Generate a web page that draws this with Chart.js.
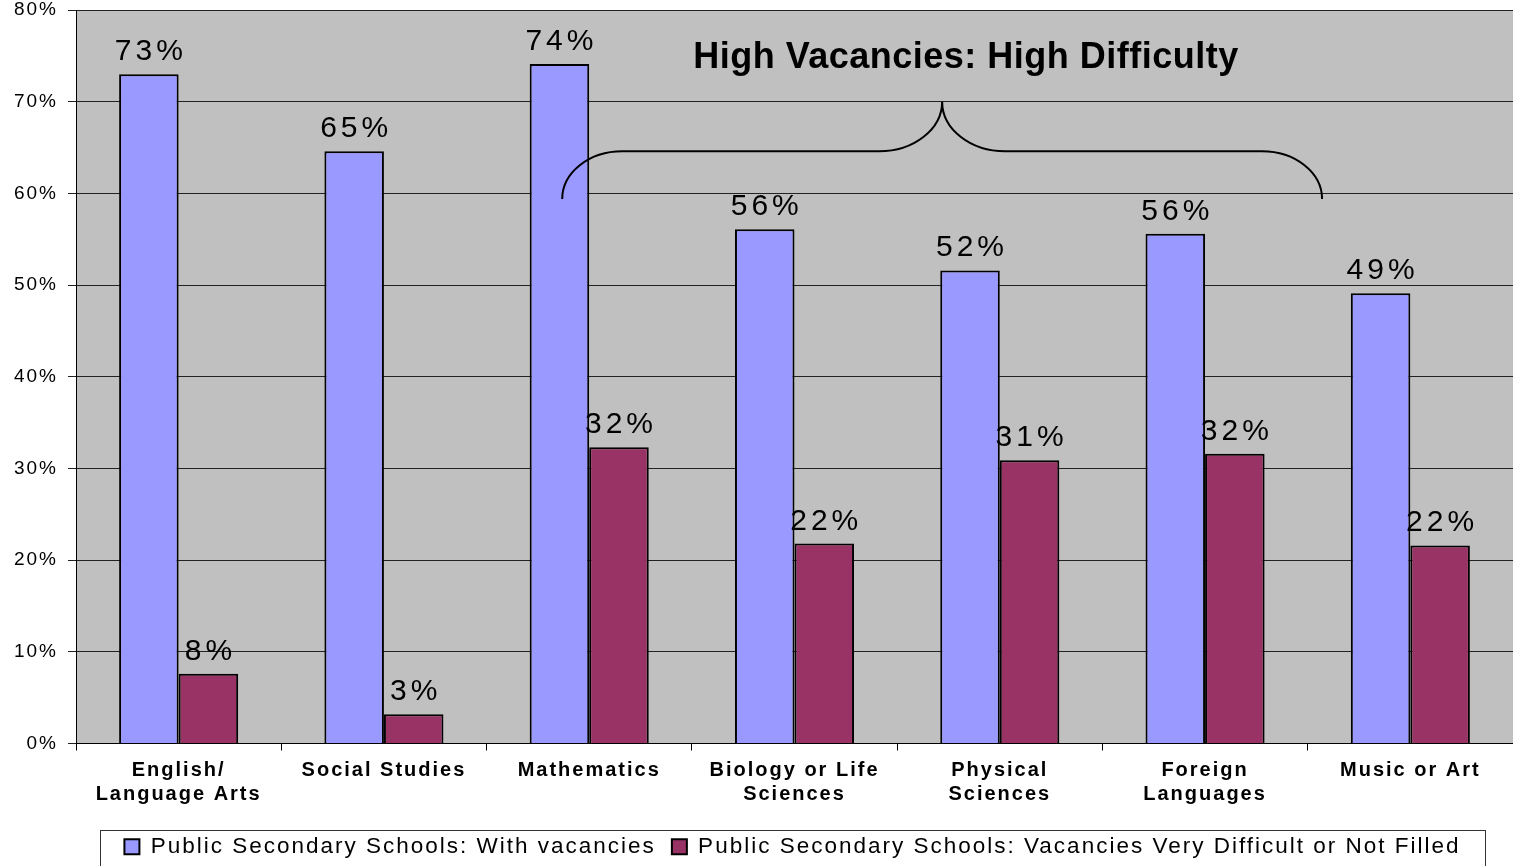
<!DOCTYPE html>
<html>
<head>
<meta charset="utf-8">
<script src="https://cdn.jsdelivr.net/npm/chart.js@4.4.1/dist/chart.umd.min.js"></script>
<style>
  html, body { margin: 0; padding: 0; background: #fff; }
  #wrap { position: absolute; left: 0; top: 0; width: 1513px; height: 866px; }
</style>
</head>
<body>
<div id="wrap"><canvas id="c" width="1513" height="866"></canvas></div>
<script>
// data
var categories = [
  ['English/', 'Language Arts'],
  'Social Studies',
  'Mathematics',
  ['Biology or Life', 'Sciences'],
  ['Physical', 'Sciences'],
  ['Foreign', 'Languages'],
  'Music or Art'
];
var withVacancies = [73.0, 64.6, 74.1, 56.1, 51.6, 55.6, 49.1];
var veryDifficult = [7.6, 3.2, 32.3, 21.8, 30.9, 31.6, 21.6];
var yTicks = [0, 10, 20, 30, 40, 50, 60, 70, 80];
var seriesNames = [
  'Public Secondary Schools: With vacancies',
  'Public Secondary Schools: Vacancies Very Difficult or Not Filled'
];
var titleText = 'High Vacancies: High Difficulty';

Chart.defaults.color = '#000';
Chart.defaults.font.family = '"Liberation Sans", Arial, sans-serif';

// grey plot area + spaced-out text like the original
var bgPlugin = {
  id: 'bg',
  beforeUpdate: function (chart) {
    chart.ctx.letterSpacing = '2px';
  },
  beforeDraw: function (chart) {
    var ctx = chart.ctx, a = chart.chartArea;
    ctx.save();
    ctx.fillStyle = '#fff';
    ctx.fillRect(0, 0, chart.width, chart.height);
    ctx.fillStyle = '#c0c0c0';
    ctx.fillRect(a.left, a.top, a.right - a.left, a.bottom - a.top);
    ctx.restore();
    ctx.letterSpacing = '2px';
  },
  afterLayout: function (chart) {
    // legend box sits a little right of centre in the original
    var lg = chart.legend;
    lg.left = 100;
    lg.right = 1485;
    lg.width = lg.right - lg.left;
    lg.top += 2;
    lg.bottom += 2;
  },
  afterDraw: function (chart) {
    var ctx = chart.ctx;
    ctx.save();
    ctx.strokeStyle = '#333';
    ctx.lineWidth = 1;
    ctx.strokeRect(100.5, 830.5, 1385, 40);
    ctx.restore();
  }
};

// value labels, title and the brace
var notePlugin = {
  id: 'notes',
  afterDatasetsDraw: function (chart) {
    var ctx = chart.ctx;
    ctx.save();
    ctx.font = '30px "Liberation Sans", Arial, sans-serif';
    ctx.letterSpacing = '4px';
    ctx.fillStyle = '#000';
    ctx.textAlign = 'center';
    ctx.textBaseline = 'alphabetic';
    chart.data.datasets.forEach(function (ds, i) {
      var meta = chart.getDatasetMeta(i);
      meta.data.forEach(function (bar, j) {
        ctx.fillText(Math.round(ds.data[j]) + '%', bar.x + 2, bar.y - 14);
      });
    });

    ctx.font = 'bold 36px "Liberation Sans", Arial, sans-serif';
    ctx.letterSpacing = '0.5px';
    ctx.fillText(titleText, 966, 68);

    var xs = chart.scales.x, ys = chart.scales.y;
    var xl = xs.getPixelForValue(2) - 27;
    var xr = xs.getPixelForValue(5) + 117;
    var mid = (xl + xr) / 2;
    var yb = ys.getPixelForValue(59.4);
    var yh = ys.getPixelForValue(64.6);
    var yp = ys.getPixelForValue(70);
    var rx = 60, ry = yb - yh, rx2 = 63, ry2 = yh - yp;
    ctx.strokeStyle = '#000';
    ctx.lineWidth = 2;
    ctx.beginPath();
    ctx.ellipse(xl + rx, yb, rx, ry, 0, Math.PI, Math.PI * 1.5);
    ctx.lineTo(mid - rx2, yh);
    ctx.ellipse(mid - rx2, yp, rx2, ry2, 0, Math.PI * 0.5, 0, true);
    ctx.ellipse(mid + rx2, yp, rx2, ry2, 0, Math.PI, Math.PI * 0.5, true);
    ctx.lineTo(xr - rx, yh);
    ctx.ellipse(xr - rx, yb, rx, ry, 0, Math.PI * 1.5, Math.PI * 2);
    ctx.stroke();
    ctx.restore();
  }
};

var chart = new Chart(document.getElementById('c'), {
  type: 'bar',
  data: {
    labels: categories,
    datasets: [
      {
        label: seriesNames[0],
        data: withVacancies,
        backgroundColor: '#9999ff',
        borderColor: '#000',
        borderWidth: 2
      },
      {
        label: seriesNames[1],
        data: veryDifficult,
        backgroundColor: '#993366',
        borderColor: '#000',
        borderWidth: 2
      }
    ]
  },
  options: {
    responsive: false,
    animation: false,
    layout: { padding: { top: 10, left: 0, right: 0, bottom: 0 } },
    datasets: {
      bar: { categoryPercentage: 0.58, barPercentage: 1 }
    },
    plugins: {
      legend: {
        position: 'bottom',
        labels: {
          boxWidth: 15,
          boxHeight: 15,
          padding: 16,
          font: { size: 22.5 }
        }
      },
      tooltip: { enabled: false }
    },
    scales: {
      x: {
        afterFit: function (s) {
          s.height = 74;
          s.paddingLeft = 0;
          s.paddingRight = 0;
        },
        grid: {
          drawOnChartArea: false,
          tickLength: 7,
          color: '#000',
          offset: true
        },
        border: { color: '#000', width: 1 },
        ticks: {
          padding: 8,
          maxRotation: 0,
          autoSkip: false,
          font: { size: 20, weight: 'bold', lineHeight: 1.2 }
        }
      },
      y: {
        min: 0,
        max: 80,
        afterFit: function (s) {
          s.width = 76;
          s.paddingTop = 0;
          s.paddingBottom = 0;
        },
        afterBuildTicks: function (s) {
          s.ticks = yTicks.map(function (v) { return { value: v }; });
        },
        grid: { color: '#222', lineWidth: 1, tickLength: 8 },
        border: { color: '#000', width: 1 },
        ticks: {
          padding: 10,
          font: { size: 19 },
          callback: function (v) { return v + '%'; }
        }
      }
    }
  },
  plugins: [bgPlugin, notePlugin]
});
</script>
</body>
</html>
